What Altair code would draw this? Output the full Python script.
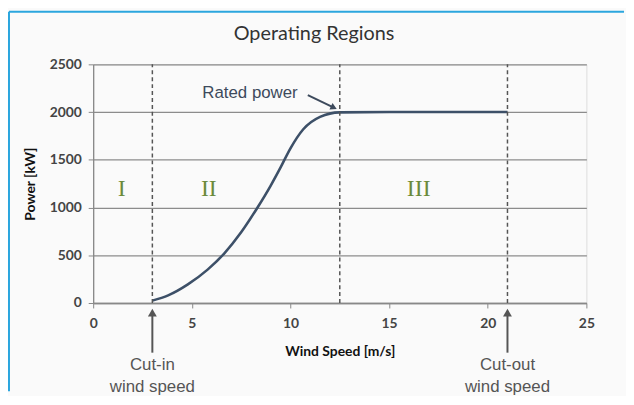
import altair as alt
import pandas as pd

# ---- data ----
wind_speed = [3.0, 3.8, 4.8, 5.8, 6.65, 7.5, 8.3, 9.0, 9.5, 10.0, 10.65, 11.5, 12.5, 15.0, 18.0, 21.0]
power_kw = [25, 80, 195, 350, 520, 740, 990, 1230, 1420, 1620, 1820, 1950, 1997, 2000, 2000, 2000]

boundaries = [3.0, 12.5, 21.0]

region_names = ["I", "II", "III"]
region_x = [1.45, 5.86, 16.5]
region_y = [1190, 1190, 1190]

speed_notes = ["Cut-in", "Cut-out"]
speed_note_x = [3.0, 21.0]

x_ticks = [0, 5, 10, 15, 20, 25]
y_ticks = [0, 500, 1000, 1500, 2000, 2500]

chart_title = "Operating Regions"

curve = pd.DataFrame({"speed": wind_speed, "power": power_kw})
bounds = pd.DataFrame({"speed": boundaries, "lo": [0] * 3, "hi": [2500] * 3})
regions = pd.DataFrame({"speed": region_x, "power": region_y, "label": region_names})
notes = pd.DataFrame({
    "speed": speed_note_x,
    "label": speed_notes,
    "line2": ["wind speed", "wind speed"],
    "y1": [-650, -650],
    "y2": [-880, -880],
    "shaft_lo": [-520, -520],
    "shaft_hi": [-105, -105],
    "head": [-100, -100],
})
rated = pd.DataFrame({
    "tx": [7.95], "ty": [2199], "label": ["Rated power"],
    "ax": [10.88], "ay": [2178], "bx": [12.2], "by": [2047],
})
one = pd.DataFrame({"a": [0], "t": [chart_title]})

xs = alt.Scale(domain=[0, 25], nice=False, zero=False)
ys = alt.Scale(domain=[0, 2500], nice=False)

x_axis = alt.Axis(values=x_ticks, title="Wind Speed [m/s]", grid=False, format="d", labelFlush=False,
                  labelFont="Lato", labelFontSize=14, labelFontWeight="bold", labelColor="#444",
                  titleFont="Lato", titleFontSize=14, titleFontWeight="bold", titleColor="#111",
                  titlePadding=14, labelPadding=9, tickSize=5, tickColor="#888",
                  domainColor="#888", domainWidth=1.3)
y_axis = alt.Axis(values=y_ticks, title="Power [kW]", grid=True, gridColor="#8c8c8c", gridWidth=1.3,
                  format="d", labelFlush=False,
                  labelFont="Lato", labelFontSize=14, labelFontWeight="bold", labelColor="#444",
                  titleFont="Lato", titleFontSize=14, titleFontWeight="bold", titleColor="#111",
                  titlePadding=12, labelPadding=7, tickSize=5, tickColor="#888",
                  domainColor="#888", domainWidth=1.3)

line = alt.Chart(curve).mark_line(color="#3d5068", strokeWidth=2.6, interpolate="monotone").encode(
    x=alt.X("speed:Q", scale=xs, axis=x_axis),
    y=alt.Y("power:Q", scale=ys, axis=y_axis),
)

dashes = alt.Chart(bounds).mark_rule(color="#555", strokeDash=[4, 3], strokeWidth=1.5).encode(
    x="speed:Q", y="lo:Q", y2="hi:Q"
)

region_text = alt.Chart(regions).mark_text(font="Liberation Serif", fontSize=24, color="#6b8a3a").encode(
    x="speed:Q", y="power:Q", text="label:N"
)

shafts = alt.Chart(notes).mark_rule(color="#555", strokeWidth=2).encode(
    x="speed:Q", y="shaft_lo:Q", y2="shaft_hi:Q"
)
heads = alt.Chart(notes).mark_point(shape="triangle-up", filled=True, color="#555", size=80, opacity=1).encode(
    x="speed:Q", y="head:Q"
)
note1 = alt.Chart(notes).mark_text(font="Liberation Sans", fontSize=17, color="#555", baseline="middle").encode(
    x="speed:Q", y="y1:Q", text="label:N"
)
note2 = alt.Chart(notes).mark_text(font="Liberation Sans", fontSize=17, color="#555", baseline="middle").encode(
    x="speed:Q", y="y2:Q", text="line2:N"
)

rated_text = alt.Chart(rated).mark_text(font="Liberation Sans", fontSize=17, color="#3d4a5c").encode(
    x="tx:Q", y="ty:Q", text="label:N"
)
rated_arrow = alt.Chart(rated).mark_rule(color="#3d4a5c", strokeWidth=2).encode(
    x="ax:Q", y="ay:Q", x2="bx:Q", y2="by:Q"
)
rated_head = alt.Chart(rated).mark_point(shape="triangle-up", filled=True, color="#3d4a5c", size=55,
                                         angle=115, opacity=1).encode(
    x="bx:Q", y="by:Q"
)

title_text = alt.Chart(one).mark_text(font="Lato", fontSize=20, color="#333", baseline="middle").encode(
    x=alt.value(223), y=alt.value(-31), text="t:N"
)

frame_v = alt.Chart(one).mark_rule(color="#2ba6de", strokeWidth=2).encode(
    x=alt.value(-85), y=alt.value(-53), y2=alt.value(330)
)
frame_h = alt.Chart(one).mark_rule(color="#2ba6de", strokeWidth=2).encode(
    x=alt.value(-85), x2=alt.value(536), y=alt.value(-53)
)

chart = alt.layer(
    frame_v, frame_h, line, dashes, region_text, shafts, heads, note1, note2,
    rated_arrow, rated_head, rated_text, title_text
).properties(
    width=498,
    height=241,
    autosize=alt.AutoSizeParams(type="none"),
    padding={"left": 86, "top": 55, "right": 40, "bottom": 92},
).configure_view(stroke=None).configure(background="#fafafa")

chart.save("out.html", embed_options={"renderer": "svg", "actions": False})
